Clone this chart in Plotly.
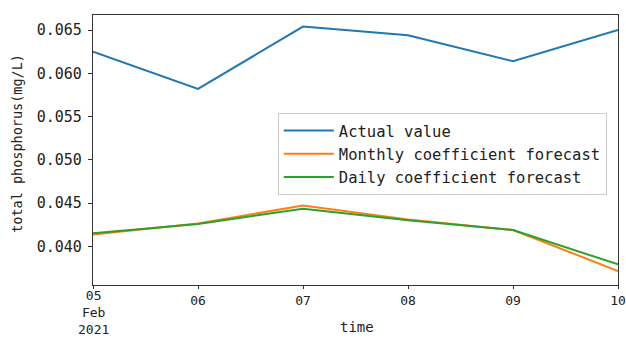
import plotly.graph_objects as go

dates = ["2021-02-05", "2021-02-06", "2021-02-07", "2021-02-08", "2021-02-09", "2021-02-10"]
actual = [0.0625, 0.0582, 0.0654, 0.0644, 0.0614, 0.0650]
monthly = [0.04136, 0.04265, 0.04473, 0.04311, 0.04190, 0.03716]
daily = [0.04152, 0.04258, 0.04436, 0.04303, 0.04190, 0.03792]

day_labels = ["05", "06", "07", "08", "09", "10"]
first_tick_extra = ["Feb", "2021"]
y_ticks = [0.040, 0.045, 0.050, 0.055, 0.060, 0.065]

FONT = "DejaVu Sans Mono"
TXT = "#222222"
XT_SIZE = 13

fig = go.Figure()
fig.add_trace(go.Scatter(x=dates, y=actual, mode="lines", name="Actual value",
                         line=dict(color="#1f77b4", width=2)))
fig.add_trace(go.Scatter(x=dates, y=monthly, mode="lines", name="Monthly coefficient forecast",
                         line=dict(color="#ff7f0e", width=2)))
fig.add_trace(go.Scatter(x=dates, y=daily, mode="lines", name="Daily coefficient forecast",
                         line=dict(color="#2ca02c", width=2)))

axis_common = dict(
    showline=True, linecolor="#333333", linewidth=1.3, mirror=True,
    ticks="outside", tickcolor="#333333", tickwidth=1,
    showgrid=False, zeroline=False, automargin=False,
    ticklabeloverflow="allow",
)

# the first date carries month and year, drawn as one stacked label below
fig.update_xaxes(type="date", range=[dates[0], dates[-1]],
                 tickvals=dates, ticktext=[""] + day_labels[1:], ticklen=3,
                 tickfont=dict(family=FONT, size=XT_SIZE, color=TXT), **axis_common)
fig.update_yaxes(range=[0.03554, 0.06674], tickvals=y_ticks,
                 ticktext=[f"{v:.3f}" for v in y_ticks], ticklen=4,
                 ticklabelstandoff=3,
                 tickfont=dict(family=FONT, size=15, color=TXT), **axis_common)

annotations = [
    dict(text="<br>".join([day_labels[0]] + first_tick_extra),
         xref="x", yref="paper", x=dates[0], y=-0.008,
         xanchor="center", yanchor="top", showarrow=False, borderpad=0,
         font=dict(family=FONT, size=XT_SIZE, color=TXT)),
    dict(text="time", xref="paper", yref="paper", x=0.502, y=-0.155,
         xanchor="center", yanchor="middle", showarrow=False,
         font=dict(family=FONT, size=14, color=TXT)),
    dict(text="total phosphorus(mg/L)", xref="paper", yref="paper",
         x=-0.145, y=0.526, xanchor="center", yanchor="middle",
         textangle=-90, showarrow=False,
         font=dict(family=FONT, size=13.5, color=TXT)),
]

fig.update_layout(
    width=626, height=339,
    margin=dict(l=93, r=8, t=15, b=54),
    paper_bgcolor="white", plot_bgcolor="white",
    font=dict(family=FONT, color=TXT),
    showlegend=True,
    legend=dict(
        x=0.352, y=0.637, xanchor="left", yanchor="top",
        bgcolor="rgba(255,255,255,0.85)", bordercolor="#cccccc", borderwidth=1,
        font=dict(family=FONT, size=15.5, color=TXT),
        itemwidth=50, tracegroupgap=0,
    ),
    annotations=annotations,
)

fig.write_html("out.html")
